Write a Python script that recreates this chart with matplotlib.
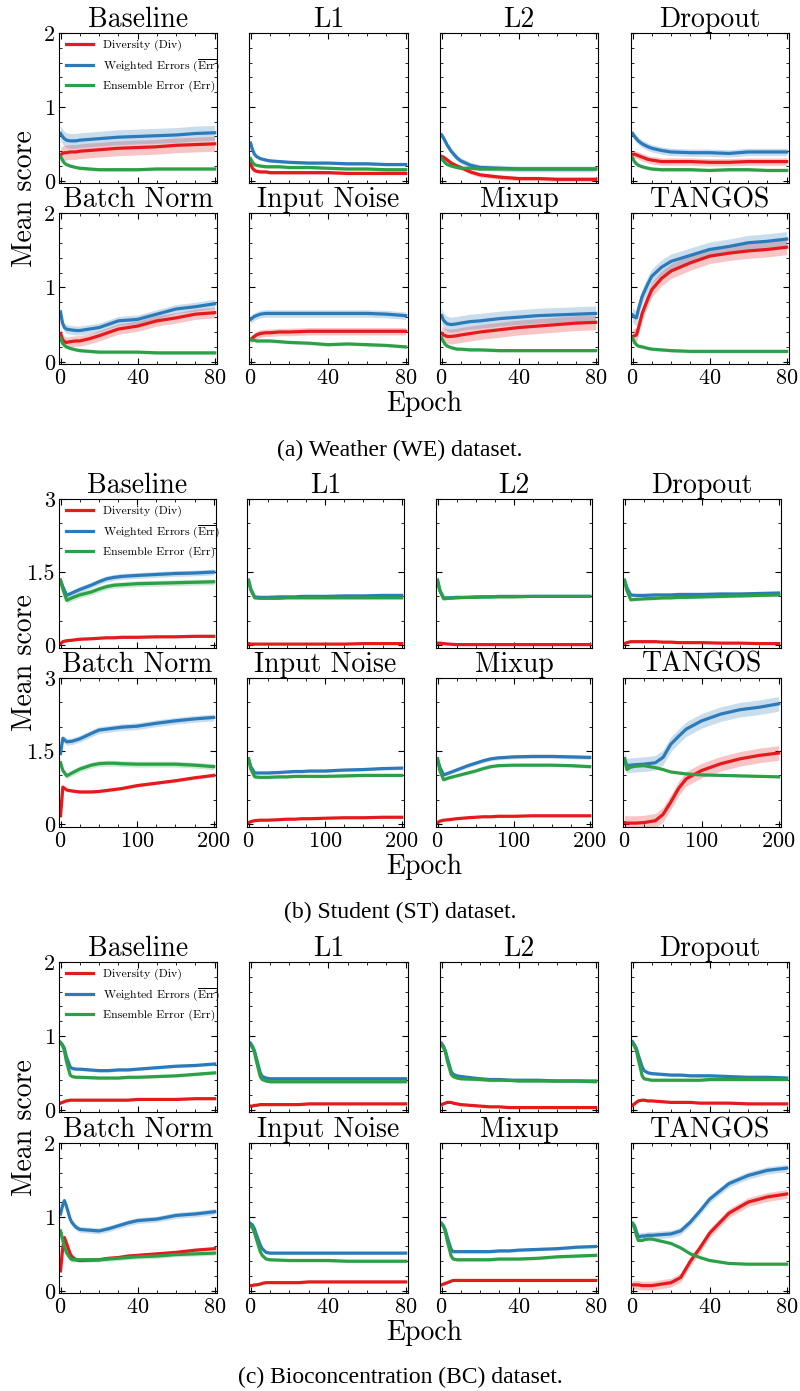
import matplotlib
matplotlib.use("Agg")
import matplotlib.pyplot as plt
from matplotlib.ticker import MultipleLocator

plt.rcParams['font.family'] = 'cmr10'
plt.rcParams['mathtext.fontset'] = 'cm'
plt.rcParams['axes.formatter.use_mathtext'] = True

METHODS = ['Baseline', 'L1', 'L2', 'Dropout',
           'Batch Norm', 'Input Noise', 'Mixup', 'TANGOS']
LABELS = ['Diversity (Div)', r'Weighted Errors ($\overline{\mathrm{Err}}$)',
          'Ensemble Error (Err)']
COLORS = ['#e41a1c', '#2b7bba', '#2ca047']

# (a) Weather
WE_EPOCHS = [0, 1, 2, 3, 5, 8, 10, 15, 20, 30, 40, 50, 60, 70, 80]
WE_DIV = [
    [0.35, 0.37, 0.38, 0.38, 0.39, 0.39, 0.40, 0.41, 0.42, 0.44, 0.45, 0.46, 0.48, 0.49, 0.50],
    [0.23, 0.17, 0.14, 0.13, 0.12, 0.12, 0.11, 0.11, 0.11, 0.11, 0.11, 0.10, 0.10, 0.10, 0.10],
    [0.33, 0.32, 0.30, 0.28, 0.24, 0.20, 0.18, 0.12, 0.08, 0.05, 0.03, 0.03, 0.02, 0.02, 0.02],
    [0.36, 0.36, 0.35, 0.34, 0.32, 0.29, 0.28, 0.26, 0.26, 0.26, 0.25, 0.25, 0.26, 0.26, 0.26],
    [0.38, 0.30, 0.27, 0.26, 0.27, 0.28, 0.28, 0.31, 0.35, 0.44, 0.48, 0.55, 0.59, 0.64, 0.66],
    [0.30, 0.32, 0.34, 0.36, 0.38, 0.39, 0.39, 0.40, 0.40, 0.41, 0.41, 0.41, 0.41, 0.41, 0.41],
    [0.38, 0.36, 0.35, 0.34, 0.34, 0.35, 0.36, 0.38, 0.40, 0.43, 0.46, 0.48, 0.50, 0.52, 0.53],
    [0.34, 0.35, 0.36, 0.45, 0.65, 0.85, 0.97, 1.12, 1.22, 1.33, 1.42, 1.46, 1.49, 1.51, 1.54],
]
WE_ERRBAR = [
    [0.64, 0.60, 0.57, 0.55, 0.54, 0.54, 0.55, 0.56, 0.57, 0.59, 0.60, 0.61, 0.62, 0.64, 0.65],
    [0.51, 0.42, 0.36, 0.33, 0.30, 0.28, 0.27, 0.26, 0.25, 0.24, 0.24, 0.23, 0.23, 0.22, 0.22],
    [0.62, 0.58, 0.53, 0.48, 0.40, 0.31, 0.27, 0.21, 0.18, 0.17, 0.16, 0.16, 0.16, 0.16, 0.16],
    [0.64, 0.60, 0.57, 0.54, 0.50, 0.46, 0.44, 0.41, 0.39, 0.38, 0.38, 0.37, 0.39, 0.39, 0.39],
    [0.67, 0.52, 0.46, 0.44, 0.43, 0.42, 0.42, 0.44, 0.46, 0.55, 0.57, 0.64, 0.71, 0.74, 0.78],
    [0.57, 0.59, 0.61, 0.62, 0.64, 0.65, 0.65, 0.65, 0.65, 0.65, 0.65, 0.65, 0.65, 0.64, 0.62],
    [0.62, 0.56, 0.53, 0.51, 0.50, 0.51, 0.52, 0.54, 0.55, 0.58, 0.60, 0.62, 0.63, 0.64, 0.65],
    [0.63, 0.60, 0.59, 0.70, 0.88, 1.05, 1.15, 1.27, 1.35, 1.43, 1.51, 1.55, 1.60, 1.62, 1.65],
]
WE_ERR = [
    [0.33, 0.28, 0.24, 0.22, 0.20, 0.18, 0.17, 0.16, 0.15, 0.15, 0.15, 0.16, 0.16, 0.16, 0.16],
    [0.30, 0.25, 0.22, 0.21, 0.20, 0.19, 0.19, 0.19, 0.18, 0.18, 0.17, 0.16, 0.16, 0.15, 0.15],
    [0.30, 0.27, 0.24, 0.22, 0.20, 0.18, 0.17, 0.17, 0.16, 0.16, 0.16, 0.16, 0.16, 0.16, 0.16],
    [0.31, 0.26, 0.23, 0.21, 0.19, 0.17, 0.16, 0.15, 0.15, 0.15, 0.14, 0.15, 0.15, 0.14, 0.14],
    [0.32, 0.25, 0.22, 0.20, 0.18, 0.16, 0.15, 0.14, 0.13, 0.13, 0.13, 0.12, 0.12, 0.12, 0.12],
    [0.30, 0.29, 0.29, 0.28, 0.28, 0.28, 0.28, 0.27, 0.26, 0.25, 0.23, 0.24, 0.23, 0.22, 0.20],
    [0.32, 0.27, 0.23, 0.21, 0.19, 0.17, 0.17, 0.16, 0.16, 0.15, 0.15, 0.15, 0.15, 0.15, 0.15],
    [0.32, 0.26, 0.23, 0.21, 0.20, 0.18, 0.17, 0.16, 0.15, 0.14, 0.14, 0.14, 0.14, 0.14, 0.14],
]
WE_BAND = [[0.10, 0.10, 0.02], [0.02, 0.02, 0.02], [0.03, 0.04, 0.02], [0.05, 0.05, 0.02],
           [0.07, 0.06, 0.02], [0.05, 0.05, 0.02], [0.10, 0.10, 0.02], [0.10, 0.10, 0.02]]

# (b) Student
ST_EPOCHS = [0, 3, 8, 15, 25, 40, 50, 60, 70, 80, 100, 125, 150, 175, 200]
ST_DIV = [
    [0.03, 0.07, 0.09, 0.10, 0.12, 0.13, 0.14, 0.15, 0.15, 0.16, 0.16, 0.17, 0.17, 0.18, 0.18],
    [0.03, 0.02, 0.02, 0.02, 0.02, 0.02, 0.02, 0.02, 0.02, 0.02, 0.02, 0.02, 0.03, 0.03, 0.03],
    [0.04, 0.04, 0.03, 0.02, 0.01, 0.01, 0.01, 0.01, 0.01, 0.01, 0.01, 0.01, 0.01, 0.01, 0.01],
    [0.03, 0.05, 0.07, 0.07, 0.07, 0.07, 0.06, 0.06, 0.05, 0.05, 0.05, 0.04, 0.04, 0.03, 0.03],
    [0.17, 0.76, 0.70, 0.68, 0.66, 0.66, 0.67, 0.69, 0.71, 0.73, 0.79, 0.84, 0.89, 0.95, 1.00],
    [0.03, 0.05, 0.07, 0.08, 0.08, 0.09, 0.10, 0.10, 0.11, 0.11, 0.12, 0.13, 0.13, 0.14, 0.14],
    [0.03, 0.06, 0.08, 0.09, 0.11, 0.13, 0.14, 0.15, 0.15, 0.16, 0.16, 0.17, 0.17, 0.17, 0.17],
    [0.03, 0.02, 0.02, 0.02, 0.03, 0.07, 0.20, 0.45, 0.73, 0.93, 1.10, 1.24, 1.34, 1.41, 1.46],
]
ST_ERRBAR = [
    [1.33, 1.20, 1.02, 1.07, 1.14, 1.23, 1.30, 1.36, 1.39, 1.41, 1.43, 1.45, 1.47, 1.48, 1.50],
    [1.33, 1.15, 0.99, 0.98, 0.98, 0.99, 0.99, 0.99, 1.00, 1.00, 1.00, 1.01, 1.01, 1.02, 1.02],
    [1.33, 1.13, 0.97, 0.97, 0.98, 0.98, 0.99, 0.99, 0.99, 1.00, 1.00, 1.00, 1.00, 1.00, 1.00],
    [1.33, 1.18, 1.03, 1.02, 1.02, 1.03, 1.03, 1.03, 1.04, 1.04, 1.04, 1.05, 1.05, 1.06, 1.07],
    [1.45, 1.76, 1.69, 1.70, 1.75, 1.86, 1.93, 1.95, 1.97, 1.99, 2.01, 2.07, 2.12, 2.16, 2.19],
    [1.34, 1.18, 1.05, 1.05, 1.05, 1.06, 1.07, 1.08, 1.08, 1.09, 1.09, 1.11, 1.12, 1.14, 1.15],
    [1.34, 1.17, 1.01, 1.05, 1.11, 1.20, 1.25, 1.30, 1.34, 1.36, 1.38, 1.39, 1.39, 1.38, 1.37],
    [1.34, 1.20, 1.21, 1.22, 1.23, 1.26, 1.37, 1.64, 1.80, 1.95, 2.12, 2.26, 2.35, 2.40, 2.47],
]
ST_ERR = [
    [1.33, 1.15, 0.92, 0.97, 1.03, 1.09, 1.15, 1.20, 1.23, 1.24, 1.26, 1.27, 1.28, 1.29, 1.30],
    [1.33, 1.13, 0.97, 0.96, 0.96, 0.96, 0.97, 0.97, 0.97, 0.97, 0.97, 0.97, 0.97, 0.97, 0.97],
    [1.33, 1.12, 0.95, 0.96, 0.97, 0.98, 0.98, 0.99, 0.99, 0.99, 0.99, 1.00, 1.00, 1.00, 1.00],
    [1.33, 1.12, 0.93, 0.94, 0.95, 0.96, 0.97, 0.97, 0.98, 0.98, 0.99, 1.00, 1.01, 1.02, 1.03],
    [1.26, 1.10, 0.99, 1.05, 1.13, 1.21, 1.24, 1.25, 1.25, 1.24, 1.23, 1.23, 1.23, 1.21, 1.18],
    [1.34, 1.13, 0.97, 0.96, 0.96, 0.97, 0.97, 0.98, 0.98, 0.98, 0.98, 0.99, 1.00, 1.00, 1.00],
    [1.34, 1.10, 0.91, 0.95, 0.99, 1.05, 1.09, 1.14, 1.18, 1.20, 1.21, 1.21, 1.21, 1.20, 1.18],
    [1.34, 1.12, 1.17, 1.19, 1.20, 1.16, 1.12, 1.07, 1.05, 1.03, 1.01, 1.00, 0.99, 0.98, 0.97],
]
ST_BAND = [[0.02, 0.06, 0.06], [0.01, 0.03, 0.02], [0.01, 0.02, 0.02], [0.01, 0.03, 0.03],
           [0.03, 0.07, 0.06], [0.01, 0.03, 0.03], [0.01, 0.04, 0.03], [0.15, 0.15, 0.02]]

# (c) Bioconcentration
BC_EPOCHS = [0, 1, 2, 3, 5, 6, 8, 10, 20, 25, 30, 35, 40, 50, 60, 70, 80]
BC_DIV = [
    [0.09, 0.10, 0.11, 0.12, 0.13, 0.13, 0.13, 0.13, 0.13, 0.13, 0.13, 0.13, 0.14, 0.14, 0.14, 0.15, 0.15],
    [0.05, 0.05, 0.06, 0.06, 0.07, 0.07, 0.07, 0.07, 0.07, 0.07, 0.08, 0.08, 0.08, 0.08, 0.08, 0.08, 0.08],
    [0.07, 0.08, 0.09, 0.10, 0.10, 0.09, 0.08, 0.07, 0.05, 0.04, 0.04, 0.03, 0.03, 0.03, 0.03, 0.03, 0.03],
    [0.06, 0.08, 0.10, 0.12, 0.13, 0.13, 0.12, 0.12, 0.10, 0.10, 0.10, 0.09, 0.09, 0.09, 0.08, 0.08, 0.08],
    [0.27, 0.55, 0.72, 0.65, 0.50, 0.46, 0.42, 0.41, 0.42, 0.44, 0.45, 0.47, 0.48, 0.50, 0.52, 0.55, 0.57],
    [0.07, 0.07, 0.08, 0.08, 0.09, 0.10, 0.11, 0.11, 0.11, 0.11, 0.12, 0.12, 0.12, 0.12, 0.12, 0.12, 0.12],
    [0.08, 0.09, 0.10, 0.11, 0.13, 0.14, 0.14, 0.14, 0.14, 0.14, 0.14, 0.14, 0.14, 0.14, 0.14, 0.14, 0.14],
    [0.08, 0.08, 0.08, 0.08, 0.07, 0.07, 0.07, 0.07, 0.11, 0.18, 0.40, 0.58, 0.78, 1.05, 1.20, 1.27, 1.31],
]
BC_ERRBAR = [
    [0.91, 0.88, 0.83, 0.72, 0.58, 0.56, 0.55, 0.55, 0.53, 0.53, 0.54, 0.54, 0.55, 0.57, 0.59, 0.60, 0.62],
    [0.90, 0.86, 0.80, 0.70, 0.50, 0.45, 0.43, 0.42, 0.42, 0.42, 0.42, 0.42, 0.42, 0.42, 0.42, 0.42, 0.42],
    [0.90, 0.86, 0.80, 0.70, 0.52, 0.48, 0.46, 0.45, 0.42, 0.41, 0.41, 0.40, 0.40, 0.40, 0.39, 0.39, 0.39],
    [0.92, 0.88, 0.83, 0.74, 0.58, 0.53, 0.50, 0.49, 0.47, 0.47, 0.46, 0.46, 0.46, 0.45, 0.44, 0.44, 0.43],
    [1.04, 1.15, 1.22, 1.15, 0.97, 0.92, 0.86, 0.83, 0.81, 0.84, 0.88, 0.92, 0.95, 0.97, 1.02, 1.04, 1.07],
    [0.91, 0.89, 0.84, 0.76, 0.62, 0.57, 0.52, 0.51, 0.51, 0.51, 0.51, 0.51, 0.51, 0.51, 0.51, 0.51, 0.51],
    [0.91, 0.88, 0.82, 0.72, 0.56, 0.53, 0.53, 0.53, 0.53, 0.53, 0.54, 0.54, 0.55, 0.56, 0.57, 0.59, 0.60],
    [0.91, 0.88, 0.80, 0.73, 0.74, 0.74, 0.75, 0.75, 0.77, 0.81, 0.93, 1.08, 1.24, 1.45, 1.56, 1.63, 1.66],
]
BC_ERR = [
    [0.91, 0.87, 0.80, 0.66, 0.47, 0.45, 0.44, 0.44, 0.43, 0.43, 0.43, 0.44, 0.44, 0.45, 0.46, 0.48, 0.50],
    [0.88, 0.84, 0.78, 0.66, 0.45, 0.41, 0.39, 0.38, 0.38, 0.38, 0.38, 0.38, 0.38, 0.38, 0.38, 0.38, 0.38],
    [0.88, 0.84, 0.78, 0.66, 0.48, 0.45, 0.43, 0.42, 0.41, 0.40, 0.40, 0.40, 0.39, 0.39, 0.39, 0.39, 0.38],
    [0.90, 0.86, 0.80, 0.68, 0.46, 0.42, 0.41, 0.40, 0.40, 0.40, 0.40, 0.40, 0.41, 0.41, 0.41, 0.41, 0.41],
    [0.81, 0.70, 0.60, 0.52, 0.44, 0.42, 0.42, 0.42, 0.42, 0.43, 0.44, 0.45, 0.46, 0.47, 0.49, 0.50, 0.51],
    [0.88, 0.85, 0.79, 0.70, 0.53, 0.48, 0.43, 0.42, 0.41, 0.41, 0.41, 0.41, 0.41, 0.40, 0.40, 0.40, 0.40],
    [0.91, 0.87, 0.80, 0.67, 0.47, 0.43, 0.42, 0.42, 0.42, 0.42, 0.43, 0.43, 0.43, 0.44, 0.46, 0.47, 0.48],
    [0.91, 0.85, 0.75, 0.68, 0.68, 0.69, 0.70, 0.70, 0.64, 0.58, 0.50, 0.45, 0.41, 0.37, 0.36, 0.36, 0.36],
]
BC_BAND = [[0.01, 0.02, 0.02], [0.01, 0.02, 0.02], [0.01, 0.02, 0.02], [0.01, 0.02, 0.02],
           [0.02, 0.04, 0.03], [0.01, 0.02, 0.02], [0.01, 0.02, 0.02], [0.06, 0.05, 0.01]]

W, H = 800, 1391
fig = plt.figure(figsize=(W / 100, H / 100), dpi=100)


def px_axes(l, t, r, b):
    return fig.add_axes([l / W, 1 - b / H, (r - l) / W, (b - t) / H])


def block(cols, rows, epochs, div, errbar, err, band, xlim, xticks, xminor,
          ylim, yticks, yticklabels, yminor, epoch_y, caption, cap_y):
    for i, name in enumerate(METHODS):
        r, c = divmod(i, 4)
        ax = px_axes(cols[c][0], rows[r][0], cols[c][1], rows[r][1])
        for k, ys in enumerate([div[i], errbar[i], err[i]]):
            lo = [v - band[i][k] for v in ys]
            hi = [v + band[i][k] for v in ys]
            ax.fill_between(epochs, lo, hi, color=COLORS[k], alpha=0.25, lw=0)
            ax.plot(epochs, ys, color=COLORS[k], lw=2.3, label=LABELS[k])
        ax.set_xlim(*xlim)
        ax.set_ylim(*ylim)
        ax.set_xticks(xticks)
        ax.xaxis.set_minor_locator(MultipleLocator(xminor))
        ax.set_yticks(yticks)
        ax.yaxis.set_minor_locator(MultipleLocator(yminor))
        ax.tick_params(which='both', direction='in', top=True, right=True,
                       labelsize=16, pad=3)
        ax.tick_params(which='major', length=4, width=0.8)
        ax.tick_params(which='minor', length=2, width=0.6)
        if c == 0:
            ax.set_yticklabels(yticklabels)
        else:
            ax.set_yticklabels([])
        if r == 0:
            ax.set_xticklabels([])
        ax.set_title(name, fontsize=20, pad=2)
        if i == 0:
            ax.legend(loc='upper left', frameon=False, fontsize=8.5,
                      handlelength=2.3, borderaxespad=0.2, labelspacing=0.5,
                      bbox_to_anchor=(0.0, 1.0))
    mid = (rows[0][0] + rows[1][1]) / 2
    fig.text(25 / W, 1 - mid / H, 'Mean score', rotation=90, fontsize=20,
             ha='center', va='center')
    fig.text(424 / W, 1 - epoch_y / H, 'Epoch', fontsize=20,
             ha='center', va='center')
    fig.text(400 / W, 1 - cap_y / H, caption, fontsize=17,
             family='Liberation Serif', ha='center', va='center')


COLS_A = [(59, 217), (249, 408), (440, 598), (631, 789)]
COLS_B = [(59, 216), (247, 404), (436, 592), (623, 781)]

block(COLS_A, [(33, 183), (213, 364)], WE_EPOCHS, WE_DIV, WE_ERRBAR, WE_ERR,
      WE_BAND, (-0.8, 81.2), [0, 40, 80], 10, (-0.03, 2.0), [0, 1, 2],
      ['0', '1', '2'], 0.2, 404, '(a) Weather (WE) dataset.', 450)
block(COLS_B, [(499, 648), (678, 827)], ST_EPOCHS, ST_DIV, ST_ERRBAR, ST_ERR,
      ST_BAND, (-2, 203), [0, 100, 200], 25, (-0.06, 3.0), [0, 1.5, 3],
      ['0', '1.5', '3'], 0.5, 867, '(b) Student (ST) dataset.', 912)
block(COLS_A, [(962, 1112), (1143, 1293)], BC_EPOCHS, BC_DIV, BC_ERRBAR, BC_ERR,
      BC_BAND, (-0.8, 81.2), [0, 40, 80], 10, (-0.03, 2.0), [0, 1, 2],
      ['0', '1', '2'], 0.2, 1333, '(c) Bioconcentration (BC) dataset.', 1377)

fig.savefig('out.png', dpi=100)
